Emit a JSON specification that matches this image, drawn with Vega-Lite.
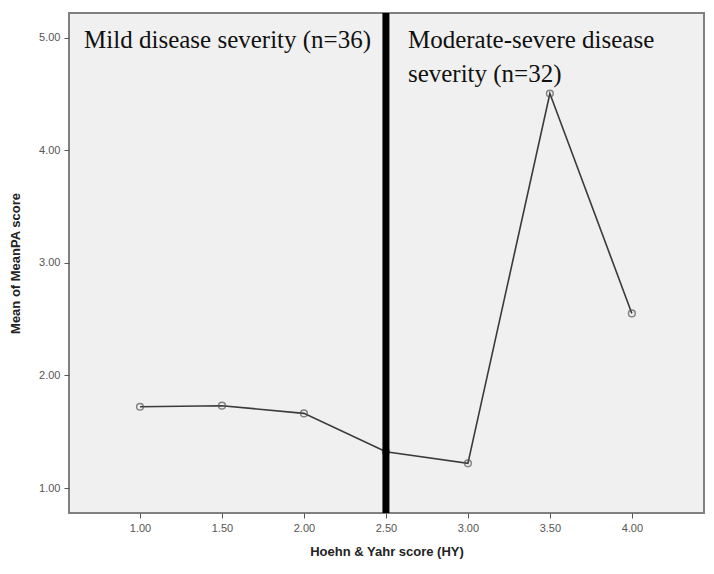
{
  "$schema": "https://vega.github.io/schema/vega-lite/v6.json",
  "width": 635,
  "height": 500,
  "autosize": {"type": "none"},
  "padding": {"left": 69, "top": 13, "right": 10, "bottom": 61},
  "background": "white",
  "config": {
    "view": {"fill": "#f0f0f0", "stroke": "#808080", "strokeWidth": 2},
    "axis": {
      "labelFont": "Liberation Sans",
      "labelFontSize": 11,
      "labelColor": "#555555",
      "titleFont": "Liberation Sans",
      "titleFontSize": 13,
      "titleFontWeight": "bold",
      "titleColor": "#222222",
      "tickColor": "#555555",
      "tickSize": 5,
      "domain": false,
      "grid": false
    }
  },
  "datasets": {
    "means": [
      {"hy": 1.0, "meanpa": 1.722},
      {"hy": 1.5, "meanpa": 1.731},
      {"hy": 2.0, "meanpa": 1.663},
      {"hy": 2.5, "meanpa": 1.322},
      {"hy": 3.0, "meanpa": 1.219},
      {"hy": 3.5, "meanpa": 4.505},
      {"hy": 4.0, "meanpa": 2.551}
    ],
    "labels": [
      {"x": 0.659, "y": 4.905, "label": "Mild disease severity (n=36)"},
      {"x": 2.634, "y": 4.905, "label": "Moderate-severe disease"},
      {"x": 2.634, "y": 4.61, "label": "severity (n=32)"}
    ],
    "divider": [{"x": 2.5}]
  },
  "layer": [
    {
      "data": {"name": "means"},
      "mark": {"type": "line", "color": "#3a3a3a", "strokeWidth": 1.6},
      "encoding": {
        "x": {
          "field": "hy",
          "type": "quantitative",
          "scale": {"domain": [0.567, 4.44], "nice": false, "zero": false},
          "axis": {"values": [1, 1.5, 2, 2.5, 3, 3.5, 4], "format": ".2f", "title": "Hoehn & Yahr score (HY)", "titlePadding": 12, "labelPadding": 4, "labelColor": "#555555"}
        },
        "y": {
          "field": "meanpa",
          "type": "quantitative",
          "scale": {"domain": [0.778, 5.22], "nice": false, "zero": false},
          "axis": {"values": [1, 2, 3, 4, 5], "format": ".2f", "title": "Mean of MeanPA score", "titlePadding": 16, "labelPadding": 4, "labelColor": "#555555"}
        }
      }
    },
    {
      "data": {"name": "means"},
      "mark": {"type": "point", "shape": "circle", "size": 45, "filled": false, "stroke": "#555555", "strokeWidth": 1.5},
      "encoding": {
        "x": {"field": "hy", "type": "quantitative"},
        "y": {"field": "meanpa", "type": "quantitative"}
      }
    },
    {
      "data": {"name": "divider"},
      "mark": {"type": "rule", "color": "black", "strokeWidth": 7},
      "encoding": {
        "x": {"field": "x", "type": "quantitative"}
      }
    },
    {
      "data": {"name": "labels"},
      "mark": {"type": "text", "font": "Liberation Serif", "fontSize": 25, "color": "#111111", "align": "left", "baseline": "alphabetic"},
      "encoding": {
        "x": {"field": "x", "type": "quantitative"},
        "y": {"field": "y", "type": "quantitative"},
        "text": {"field": "label"}
      }
    }
  ]
}
